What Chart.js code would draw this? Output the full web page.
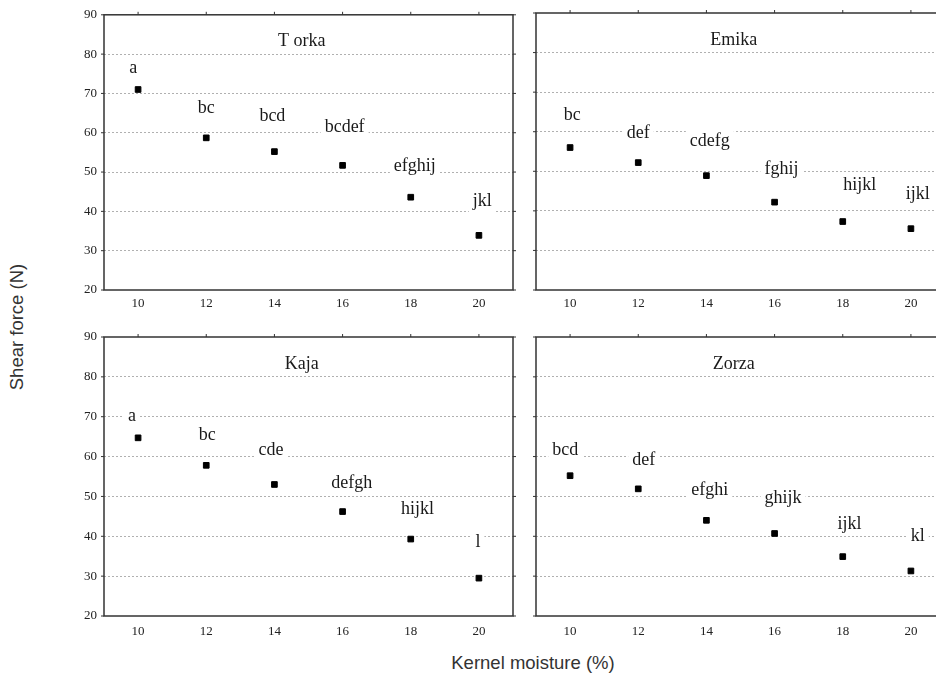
<!DOCTYPE html>
<html lang="en">
<head>
<meta charset="utf-8">
<title>Shear force vs kernel moisture</title>
<script src="https://cdn.jsdelivr.net/npm/chart.js@4.4.0/dist/chart.umd.min.js"></script>
<style>
  body{margin:0;background:#fff;overflow:hidden;}
  #wrap{position:relative;width:936px;height:677px;overflow:hidden;}
  canvas{position:absolute;}
  .axt{position:absolute;font-family:"Liberation Sans",Arial,sans-serif;font-size:18.5px;color:#333;white-space:nowrap;}
  #ytitle{left:17px;top:327px;transform:translate(-50%,-50%) rotate(-90deg);}
  #xtitle{left:533px;top:663px;transform:translate(-50%,-50%);}
</style>
</head>
<body>
<div id="wrap">
  <canvas id="cTorka" width="460" height="314" style="left:60px;top:0"></canvas>
  <canvas id="cEmika" width="430" height="314" style="left:520px;top:0"></canvas>
  <canvas id="cKaja"  width="460" height="320" style="left:60px;top:320px"></canvas>
  <canvas id="cZorza" width="430" height="320" style="left:520px;top:320px"></canvas>
  <div class="axt" id="ytitle">Shear force (N)</div>
  <div class="axt" id="xtitle">Kernel moisture (%)</div>
</div>

<script>
/* ---------- data ---------- */
const moisture = [10, 12, 14, 16, 18, 20];
const yTicks   = [20, 30, 40, 50, 60, 70, 80, 90];

const torka = [71.0, 58.7, 55.2, 51.7, 43.6, 33.9];
const emika = [56.0, 52.2, 48.9, 42.2, 37.3, 35.5];
const kaja  = [64.7, 57.8, 53.0, 46.2, 39.3, 29.5];
const zorza = [55.2, 51.9, 44.0, 40.7, 34.9, 31.3];

// homogeneous groups (letters) and where they sit, in axis units
const torkaGroups = ['a', 'bc', 'bcd', 'bcdef', 'efghij', 'jkl'];
const emikaGroups = ['bc', 'def', 'cdefg', 'fghij', 'hijkl', 'ijkl'];
const kajaGroups  = ['a', 'bc', 'cde', 'defgh', 'hijkl', 'l'];
const zorzaGroups = ['bcd', 'def', 'efghi', 'ghijk', 'ijkl', 'kl'];

const torkaLabelX = [9.86, 12.0, 13.94, 16.06, 18.12, 20.1];
const emikaLabelX = [10.06, 12.0, 14.1, 16.2, 18.5, 20.2];
const kajaLabelX  = [9.82, 12.03, 13.9, 16.27, 18.2, 19.97];
const zorzaLabelX = [9.86, 12.16, 14.1, 16.25, 18.2, 20.2];

const torkaLabelY = [76.4, 66.2, 64.2, 61.4, 51.6, 42.5];
const emikaLabelY = [64.2, 59.7, 57.6, 50.5, 46.4, 44.2];
const kajaLabelY  = [70.0, 65.3, 61.5, 53.3, 46.9, 38.5];
const zorzaLabelY = [61.6, 59.1, 51.5, 49.5, 43.0, 39.9];

/* ---------- plugin: letters, panel name, frame ---------- */
const serif = '"Liberation Serif","Times New Roman",serif';

const panelText = {
  id: 'panelText',
  beforeDatasetsDraw(chart, args, opts) {
    const ctx = chart.ctx, xs = chart.scales.x, ys = chart.scales.y;
    ctx.save();
    ctx.font = '18px ' + serif;
    ctx.textAlign = 'center';
    ctx.textBaseline = 'middle';
    const put = (txt, px, py) => {
      const w = ctx.measureText(txt).width;
      ctx.fillStyle = '#fff';
      ctx.fillRect(px - w / 2 - 4, py - 11, w + 8, 22);
      ctx.fillStyle = '#1a1a1a';
      ctx.fillText(txt, px, py);
    };
    put(opts.name, xs.getPixelForValue(14.8), ys.getPixelForValue(83.2));
    opts.groups.forEach((g, i) => {
      put(g, xs.getPixelForValue(opts.lx[i]), ys.getPixelForValue(opts.ly[i]));
    });
    ctx.restore();
  },
  afterDraw(chart) {
    const ctx = chart.ctx, a = chart.chartArea;
    const xs = chart.scales.x, ys = chart.scales.y;
    ctx.save();
    ctx.strokeStyle = '#333';
    ctx.lineWidth = 1.5;
    ctx.strokeRect(a.left, a.top, a.right - a.left, a.bottom - a.top);
    ctx.lineWidth = 1;
    ctx.beginPath();
    moisture.forEach(v => {
      const x = xs.getPixelForValue(v);
      ctx.moveTo(x, a.top); ctx.lineTo(x, a.top - 3);
    });
    yTicks.forEach(v => {
      const y = ys.getPixelForValue(v);
      ctx.moveTo(a.left, y); ctx.lineTo(a.left - 3, y);
      ctx.moveTo(a.right, y); ctx.lineTo(a.right + 3, y);
    });
    ctx.stroke();
    ctx.restore();
  }
};

function panel(id, name, values, groups, lx, ly, showY, padTop, padRight, xPad) {
  new Chart(document.getElementById(id), {
    type: 'scatter',
    data: {
      datasets: [{
        data: moisture.map((m, i) => ({x: m, y: values[i]})),
        backgroundColor: '#000',
        borderColor: '#000',
        pointStyle: 'rect',
        pointRadius: 4,
        pointHoverRadius: 4
      }]
    },
    options: {
      responsive: false,
      animation: false,
      layout: {padding: {top: padTop, right: padRight, left: 0, bottom: 0}},
      plugins: {
        legend: {display: false},
        tooltip: {enabled: false},
        panelText: {name: name, groups: groups, lx: lx, ly: ly}
      },
      scales: {
        x: {
          type: 'linear', min: 9, max: 21,
          afterBuildTicks: s => { s.ticks = moisture.map(v => ({value: v})); },
          afterFit: s => { s.height = 24; },
          grid: {display: false, drawTicks: false},
          border: {display: false},
          ticks: {font: {family: serif, size: 13}, color: '#222', padding: xPad}
        },
        y: {
          min: 20, max: 90,
          afterBuildTicks: s => { s.ticks = yTicks.map(v => ({value: v})); },
          afterFit: s => { s.width = showY ? 44 : 16; },
          border: {display: false, dash: [2, 2]},
          grid: {
            drawTicks: false,
            color: c => (c.tick && (c.tick.value === 20 || c.tick.value === 90)) ? 'rgba(0,0,0,0)' : '#b0b0b0',
            lineWidth: 1
          },
          ticks: {display: showY, font: {family: serif, size: 13}, color: '#222', padding: 7}
        }
      }
    },
    plugins: [panelText]
  });
}

panel('cTorka', 'T orka', torka, torkaGroups, torkaLabelX, torkaLabelY, true, 13, 7, 6);
panel('cEmika', 'Emika', emika, emikaGroups, emikaLabelX, emikaLabelY, false, 13, 4, 6);
panel('cKaja',  'Kaja',  kaja,  kajaGroups,  kajaLabelX,  kajaLabelY,  true, 17, 7, 8);
panel('cZorza', 'Zorza', zorza, zorzaGroups, zorzaLabelX, zorzaLabelY, false, 17, 4, 8);
</script>
</body>
</html>
